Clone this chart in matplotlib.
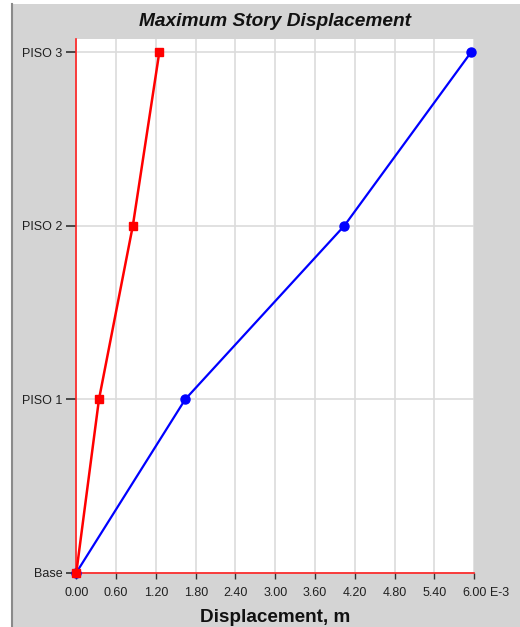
import matplotlib
matplotlib.use("Agg")
import matplotlib.pyplot as plt
from matplotlib.patches import Rectangle
from matplotlib.lines import Line2D
from matplotlib.transforms import offset_copy

plt.rcParams['font.family'] = ['Liberation Sans', 'DejaVu Sans']

# Story levels and maximum displacements (units of 1E-3 m)
stories = ["Base", "PISO 1", "PISO 2", "PISO 3"]
disp_red = [0.0, 0.342, 0.852, 1.251]
disp_blue = [0.0, 1.643, 4.04, 5.95]
x_ticks = [0.0, 0.6, 1.2, 1.8, 2.4, 3.0, 3.6, 4.2, 4.8, 5.4, 6.0]
x_tick_labels = ["0.00", "0.60", "1.20", "1.80", "2.40", "3.00", "3.60",
                 "4.20", "4.80", "5.40", "6.00"]
x_scale_label = "E-3"

W, H = 520, 627
fig = plt.figure(figsize=(W / 100, H / 100), dpi=100)
fig.patch.set_facecolor("white")

# grey panel with a darker left border
fig.add_artist(Rectangle((11 / W, 0), 1 - 11 / W, 1 - 4 / H,
                         transform=fig.transFigure, facecolor="#d4d4d4",
                         edgecolor="none", zorder=-10))
fig.add_artist(Line2D([11.5 / W, 11.5 / W], [0, 1 - 4 / H],
                      transform=fig.transFigure, color="#8a8a8a", lw=1.5))

ax_left, ax_right = 76.3, 474.3
ax_top, ax_bottom = 39.0, 572.7
ax = fig.add_axes([ax_left / W, (H - ax_bottom) / H,
                   (ax_right - ax_left) / W, (ax_bottom - ax_top) / H])
ax.set_facecolor("white")

levels = list(range(len(stories)))
ax.plot(disp_blue, levels, color="#0000ff", lw=1.6, marker="o", ms=6.5,
        zorder=3, clip_on=False)
ax.plot(disp_red, levels, color="#ff0000", lw=1.8, marker="s", ms=5.5,
        zorder=4, clip_on=False)

ax.set_xlim(0, 6.0)
ax.set_ylim(0, 3.077)
ax.set_xticks(x_ticks)
ax.set_xticklabels(x_tick_labels)
ax.set_yticks(levels)
ax.set_yticklabels(stories)

ax.grid(True, color="#dcdcdc", lw=1.2, zorder=0)
ax.set_axisbelow(True)

for side in ("top", "right"):
    ax.spines[side].set_visible(False)
for side in ("left", "bottom"):
    ax.spines[side].set_color("#ff2020")
    ax.spines[side].set_linewidth(1.2)
    ax.spines[side].set_zorder(2)

tick_fs = 9
ax.tick_params(axis="y", length=7, width=1.2, color="#303030", pad=3,
               labelsize=tick_fs, labelcolor="#202020")
ax.tick_params(axis="x", length=4, width=1.0, color="#303030", pad=6.5,
               labelsize=tick_fs, labelcolor="#202020")

# exponent marker to the right of the last tick label
last_lbl = ax.get_xticklabels()[-1]
fig.canvas.draw()
bb = last_lbl.get_window_extent()
ax.text(bb.x1 + 4, bb.y0, x_scale_label, transform=None,
        fontsize=tick_fs, color="#202020", ha="left", va="bottom")

ax.set_title("Maximum Story Displacement", fontsize=13.8, fontweight="bold",
             fontstyle="italic", pad=9, color="#111111")
ax.set_xlabel("Displacement, m", fontsize=13.6, fontweight="bold",
              labelpad=7, color="#111111")

fig.savefig("out.png", dpi=100, facecolor=fig.get_facecolor())
